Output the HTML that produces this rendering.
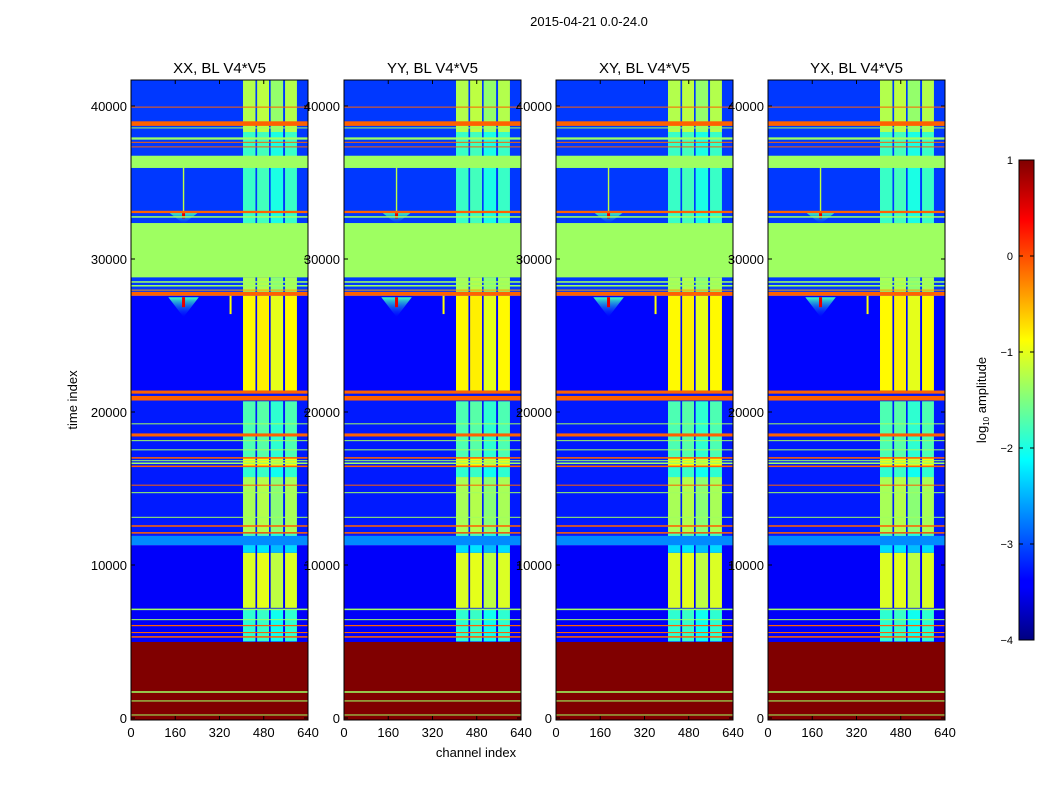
<!DOCTYPE html>
<html><head><meta charset="utf-8"><style>
html,body{margin:0;padding:0;background:#fff;}
svg{display:block;font-family:"Liberation Sans",sans-serif;}
</style></head><body>
<svg id="fig" width="1050" height="800" viewBox="0 0 1050 800">
<rect width="1050" height="800" fill="#fff"/>
<text x="589" y="26" font-size="13" text-anchor="middle">2015-04-21 0.0-24.0</text>
<text x="476" y="757" font-size="13" text-anchor="middle">channel index</text>
<text transform="translate(77,400) rotate(-90)" font-size="13" text-anchor="middle">time index</text>
<g id="panels"></g>
<defs>
<linearGradient id="jet" x1="0" y1="1" x2="0" y2="0">
<stop offset="0" stop-color="#000080"/><stop offset="0.11" stop-color="#0000ff"/>
<stop offset="0.125" stop-color="#0000ff"/><stop offset="0.375" stop-color="#00ffff"/>
<stop offset="0.625" stop-color="#ffff00"/><stop offset="0.875" stop-color="#ff0000"/>
<stop offset="1" stop-color="#800000"/>
</linearGradient>
<linearGradient id="halo" x1="0" y1="0" x2="0" y2="1">
<stop offset="0" stop-color="#40ffc0"/><stop offset="1" stop-color="#0050ff" stop-opacity="0"/>
</linearGradient>
</defs>
<g>
<rect x="1019" y="160" width="15" height="480" fill="url(#jet)" stroke="#000" stroke-width="1"/>
<g id="cbticks"></g>
<text transform="translate(986,400) rotate(-90)" font-size="13" text-anchor="middle">log<tspan font-size="8" dy="3">10</tspan><tspan dy="-3"> amplitude</tspan></text>
</g>
</svg>
<script>
// ---- data ----
const panelTitles = ["XX, BL V4*V5","YY, BL V4*V5","XY, BL V4*V5","YX, BL V4*V5"];
const xTicks = [0,160,320,480,640];
const yTicks = [0,10000,20000,30000,40000];
const cbTicks = [1,0,-1,-2,-3,-4];
// background bands [t0, t1, log10 amplitude]
const bgBands = [[-200,11300,-3.4],[11300,11900,-2.7],[11900,21400,-3.25],[21400,27600,-3.35],[27600,41700,-3.1]];
// channel column ranges where RFI columns appear
const colRanges = [[405,450],[456,499],[505,550],[557,600]];
// column blocks [t0, t1, value]
const colBlocks = [[5000,7100,-1.9],[7200,10800,-1.05],[10800,11300,-2.3],[11900,12100,-1.8],[12150,15750,-1.3],[15750,16400,-1.9],[16400,17050,-0.95],[17050,20700,-1.75],[21400,27600,-0.85],[27850,28800,-1.3],[32350,38300,-1.85],[38300,41700,-1.25]];
// per-column value offsets
const colOffsets = [0,0.05,-0.15,0.0];
// full-width horizontal bands [t0, t1, value]
const hBands = [[-200,4970,1],[1650,1750,-1.35],[1080,1150,-1.35],[170,230,-1.35],
[5250,5350,-0.1],[5550,5620,-0.1],[6000,6080,-0.1],[6400,6460,-1.35],[7050,7150,-1.35],
[12050,12150,-0.1],[12500,12600,-0.1],[13100,13150,-1.35],[14700,14760,-1.35],[15200,15250,-0.1],
[16400,16500,-0.1],[16600,16700,-1.35],[16800,16850,-1.35],[16950,17050,-0.1],
[17500,17560,-1.35],[18100,18160,-1.35],[18400,18600,-0.1],[19200,19260,-1.35],
[20750,21050,-0.1],[21200,21400,-0.1],
[27600,27850,-0.1],[27950,28000,-0.4],[28200,28300,-1.35],[28450,28550,-1.35],[28800,32350,-1.35],
[32700,32800,-1.35],[33000,33150,-0.1],
[35950,36750,-1.35],[37300,37360,-0.1],[37600,37660,-0.1],[37800,37950,-1.35],[38550,38600,-1.35],[38700,39000,-0.1],[39900,39960,-0.1]];
// spikes [channel, tCenter, halfWidthCh, tDepth]
const spikes = [[190,27500,55,1300],[190,33000,50,700]];

// ---- helpers ----
const NS="http://www.w3.org/2000/svg";
const panelLeft=[131,344,556,768], PW=177, PT=80, PB=720;
function yS(t){return 718-(t)*612/40000;}
function jet(v){const x=Math.max(0,Math.min(1,(v+4)/5));const c=a=>Math.round(255*Math.max(0,Math.min(1,1.5-Math.abs(4*x-a))));return `rgb(${c(3)},${c(2)},${c(1)})`;}
function mk(tag,attrs,parent){const e=document.createElementNS(NS,tag);for(const k in attrs)e.setAttribute(k,attrs[k]);parent.appendChild(e);return e;}
const root=document.getElementById('panels');
panelLeft.forEach((L,p)=>{
  const xS=c=>L+c*PW/640;
  const g=mk('g',{},root);
  
  
  const clip=mk('clipPath',{id:'clip'+p},g);mk('rect',{x:L,y:PT,width:PW,height:PB-PT},clip);
  const img=mk('g',{'clip-path':`url(#clip${p})`},g);
  bgBands.forEach(b=>{const r=mk('rect',{x:L,y:yS(b[1]),width:PW,height:yS(b[0])-yS(b[1]),fill:jet(b[2])},img);
    });
  colRanges.forEach((cr,ci)=>{colBlocks.forEach(b=>{const r=mk('rect',{x:xS(cr[0]),y:yS(b[1]),width:xS(cr[1])-xS(cr[0]),height:yS(b[0])-yS(b[1]),fill:jet(b[2]+colOffsets[ci])},img);
    });});
  spikes.forEach(s=>{
    const pts=`${xS(s[0]-s[2])},${yS(s[1])} ${xS(s[0]+s[2])},${yS(s[1])} ${xS(s[0])},${yS(s[1]-s[3])}`;
    const po=mk('polygon',{points:pts,fill:'url(#halo)'},img);
    
    const l=mk('rect',{x:xS(s[0])-1.5,y:yS(s[1]),width:3,height:yS(s[1]-s[3]*0.5)-yS(s[1]),fill:jet(0.5)},img);
    });
  const vl=mk('rect',{x:xS(190)-0.7,y:yS(36000),width:1.4,height:yS(33000)-yS(36000),fill:jet(-1.2)},img);
  
  const vl2=mk('rect',{x:xS(360)-1,y:yS(27600),width:2,height:yS(26400)-yS(27600),fill:jet(-0.9)},img);
  
  hBands.forEach(b=>{const h=Math.max(1,yS(b[0])-yS(b[1]));const r=mk('rect',{x:L,y:yS(b[1]),width:PW,height:h,fill:jet(b[2])},img);
    });
  const fr=mk('rect',{x:L,y:PT,width:PW,height:PB-PT,fill:'none',stroke:'#000','stroke-width':1},g);
  
  const t=mk('text',{x:L+PW/2,y:73,'font-size':15,'text-anchor':'middle'},g);t.textContent=panelTitles[p];
  
  xTicks.forEach(v=>{const x=xS(v);mk('line',{x1:x,x2:x,y1:PB,y2:PB-4,stroke:'#000'},g);mk('line',{x1:x,x2:x,y1:PT,y2:PT+4,stroke:'#000'},g);
    const tx=mk('text',{x:x,y:PB+17,'font-size':13,'text-anchor':'middle'},g);tx.textContent=v;
    });
  yTicks.forEach(v=>{const y=yS(v);mk('line',{x1:L,x2:L+4,y1:y,y2:y,stroke:'#000'},g);mk('line',{x1:L+PW,x2:L+PW-4,y1:y,y2:y,stroke:'#000'},g);
    const tx=mk('text',{x:L-4,y:y+5,'font-size':13,'text-anchor':'end'},g);tx.textContent=v;
    });
});
const cb=document.getElementById('cbticks');
cbTicks.forEach(v=>{const y=160+(1-v)*96;mk('line',{x1:1019,x2:1023,y1:y,y2:y,stroke:'#000'},cb);mk('line',{x1:1030,x2:1034,y1:y,y2:y,stroke:'#000'},cb);
  const tx=mk('text',{x:1013,y:y+4,'font-size':11,'text-anchor':'end'},cb);tx.textContent=v<0?'\u2212'+(-v):v;
  });
</script>
</body></html>
